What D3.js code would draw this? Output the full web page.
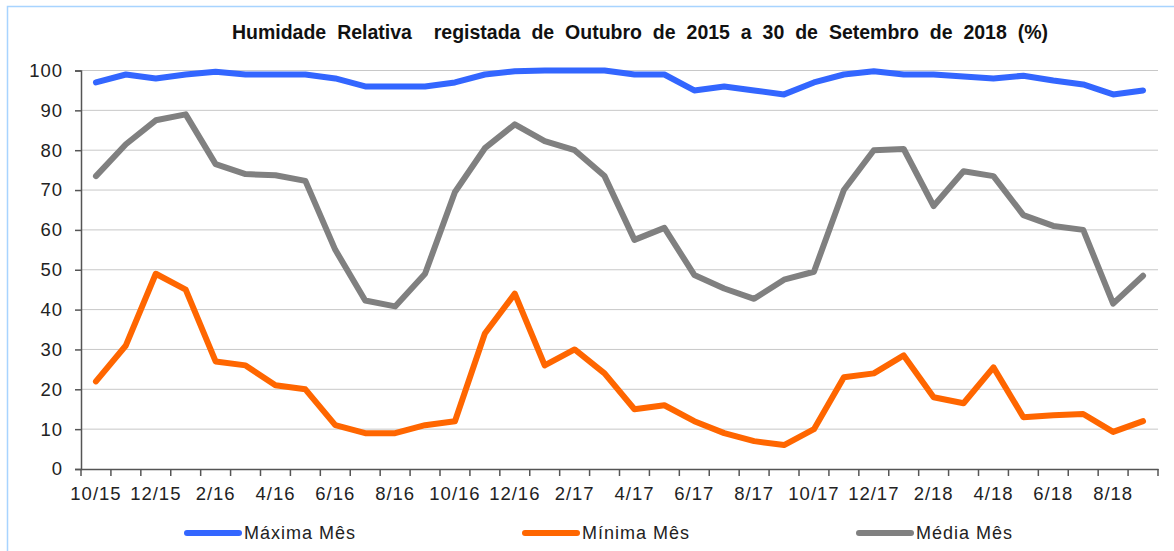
<!DOCTYPE html>
<html>
<head>
<meta charset="utf-8">
<script src="https://cdn.jsdelivr.net/npm/d3@7"></script>
<style>
html,body{margin:0;padding:0;background:#fff;}
svg{display:block;}
</style>
</head>
<body>
<svg id="chart" width="1174" height="551"></svg>
<script>
const months = ["10/15","11/15","12/15","1/16","2/16","3/16","4/16","5/16","6/16","7/16","8/16","9/16",
"10/16","11/16","12/16","1/17","2/17","3/17","4/17","5/17","6/17","7/17","8/17","9/17",
"10/17","11/17","12/17","1/18","2/18","3/18","4/18","5/18","6/18","7/18","8/18","9/18"];
const maxima = [97,99,98,99,99.7,99,99,99,98,96,96,96,97,99,99.8,100,100,100,99,99,95,96,95,94,97,99,99.8,99,99,98.5,98,98.7,97.5,96.5,94,95];
const minima = [22,31,49,45,27,26,21,20,11,9,9,11,12,34,44,26,30,24,15,16,12,9,7,6,10,23,24,28.5,18,16.5,25.5,13,13.5,13.8,9.3,12];
const media = [73.5,81.5,87.5,89,76.5,74,73.7,72.3,55,42.3,40.8,49,69.5,80.5,86.5,82.3,80,73.5,57.5,60.5,48.7,45.3,42.7,47.5,49.5,70,80,80.3,66,74.7,73.5,63.7,61,60,41.5,48.5];
const yTicks = [0,10,20,30,40,50,60,70,80,90,100];
const seriesNames = ["Máxima Mês","Mínima Mês","Média Mês"];
const seriesColors = ["#3366FF","#FF6600","#808080"];
const seriesData = [maxima, minima, media];

(function(){
const svg = d3.select("#chart");
const pLeft = 81, pRight = 1158, pTop = 70.5, pBottom = 469;
const font = "Liberation Sans, Arial, sans-serif";

// frame
svg.append("path").attr("d","M7.5,551 L7.5,6.5 L1174,6.5").attr("fill","none").attr("stroke","#a8d4ff").attr("stroke-width",1.5);

const x = d3.scaleBand().domain(months).range([pLeft,pRight]).padding(0);
const y = d3.scaleLinear().domain([0,100]).range([pBottom,pTop]);

// grid
svg.append("g").selectAll("line").data(yTicks.filter(d=>d>0)).join("line")
  .attr("x1",pLeft).attr("x2",pRight).attr("y1",d=>y(d)).attr("y2",d=>y(d))
  .attr("stroke","#c8c8c8").attr("stroke-width",1);

// y axis
const yAxis = svg.append("g").attr("transform",`translate(${pLeft},0)`)
  .call(d3.axisLeft(y).tickValues(yTicks).tickSize(6).tickPadding(12));
yAxis.select(".domain").attr("stroke","#555").attr("stroke-width",1.5);
yAxis.selectAll(".tick line").attr("stroke","#555").attr("stroke-width",1.5);
yAxis.selectAll("text").attr("font-family",font).attr("font-size",18.5).attr("letter-spacing",1).attr("fill","#222");

// x axis
const xAxis = svg.append("g").attr("transform",`translate(0,${pBottom})`)
  .call(d3.axisBottom(x).tickValues(months.filter((d,i)=>i%2===0)).tickSize(0).tickPadding(18));
xAxis.select(".domain").attr("stroke","#555").attr("stroke-width",1.5);
xAxis.selectAll("text").attr("font-family",font).attr("font-size",18.5).attr("letter-spacing",1).attr("fill","#222");
// tick marks at category boundaries
const bounds = months.map(m=>x(m)).concat([x(months[months.length-1])+x.bandwidth()]);
svg.append("g").selectAll("line").data(bounds).join("line")
  .attr("x1",d=>d).attr("x2",d=>d).attr("y1",pBottom).attr("y2",pBottom+7)
  .attr("stroke","#555").attr("stroke-width",1.5);

// lines
const line = d3.line().x((d,i)=>x(months[i])+x.bandwidth()/2).y(d=>y(d));
seriesData.forEach((data,k)=>{
  svg.append("path").datum(data).attr("d",line).attr("fill","none")
    .attr("stroke",seriesColors[k]).attr("stroke-width",6)
    .attr("stroke-linejoin","round").attr("stroke-linecap","round");
});

// title
svg.append("text").attr("x",640).attr("y",39).attr("text-anchor","middle")
  .attr("font-family",font).attr("font-weight","bold").attr("font-size",19.5)
  .attr("fill","#111").style("white-space","pre").attr("word-spacing",5.5)
  .text("Humidade Relativa  registada de Outubro de 2015 a 30 de Setembro de 2018 (%)");

// legend
const legX = [185, 523, 857];
seriesNames.forEach((n,k)=>{
  const g = svg.append("g");
  g.append("line").attr("x1",legX[k]+2).attr("x2",legX[k]+54).attr("y1",533).attr("y2",533)
    .attr("stroke",seriesColors[k]).attr("stroke-width",6).attr("stroke-linecap","round");
  g.append("text").attr("x",legX[k]+59).attr("y",539)
    .attr("font-family",font).attr("font-size",18).attr("fill","#222")
    .attr("letter-spacing",1).text(n);
});
})();
</script>
</body>
</html>
